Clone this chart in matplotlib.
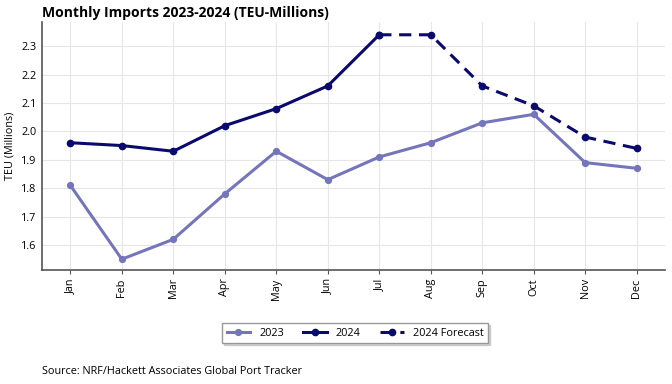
import matplotlib
matplotlib.use("Agg")
import matplotlib.pyplot as plt

plt.rcParams['font.family'] = ['Open Sans', 'DejaVu Sans']

months = ["Jan", "Feb", "Mar", "Apr", "May", "Jun", "Jul", "Aug", "Sep", "Oct", "Nov", "Dec"]
imports_2023 = [1.81, 1.55, 1.62, 1.78, 1.93, 1.83, 1.91, 1.96, 2.03, 2.06, 1.89, 1.87]
imports_2024 = [1.96, 1.95, 1.93, 2.02, 2.08, 2.16, 2.34]
forecast_2024 = [2.34, 2.34, 2.16, 2.09, 1.98, 1.94]
yticks = [1.6, 1.7, 1.8, 1.9, 2.0, 2.1, 2.2, 2.3]

fig = plt.figure(figsize=(6.72, 3.84), dpi=100)
ax = fig.add_axes([42 / 672, 1 - 270 / 384, 623 / 672, 248 / 384])

x = list(range(len(months)))
ax.plot(x, imports_2023, color="#7575bb", lw=2.2, marker="o", ms=4.2, label="2023")
ax.plot(x[:len(imports_2024)], imports_2024, color="#0a0a6e", lw=2.2, marker="o", ms=4.5, label="2024")
ax.plot(x[6:6 + len(forecast_2024)], forecast_2024, color="#0a0a6e", lw=2.2, ls=(0, (4, 2.5)),
        marker="o", ms=4.5, label="2024 Forecast")

ax.set_xlim(-0.55, 11.55)
ax.set_ylim(1.512, 2.385)
ax.set_xticks(x)
ax.set_xticklabels(months, rotation=90, fontsize=7.8)
ax.set_yticks(yticks)
ax.set_yticklabels([f"{v:.1f}" for v in yticks], fontsize=7.8)
ax.tick_params(axis="y", length=0, pad=4)
ax.tick_params(axis="x", length=3, color="#555555", pad=3)
ax.grid(True, color="#e6e6e6", lw=0.8)
ax.set_axisbelow(True)
for s in ["top", "right"]:
    ax.spines[s].set_visible(False)
for s in ["left", "bottom"]:
    ax.spines[s].set_color("#555555")
    ax.spines[s].set_linewidth(1.2)
ax.set_ylabel("TEU (Millions)", fontsize=7.8)

fig.text(42 / 672, 1 - 13 / 384, "Monthly Imports 2023-2024 (TEU-Millions)", fontsize=10,
         fontweight="bold", va="center", ha="left")
fig.text(42 / 672, 1 - 372 / 384, "Source: NRF/Hackett Associates Global Port Tracker", fontsize=7.8,
         va="center", ha="left")

leg = fig.legend(loc="center", bbox_to_anchor=(355 / 672, 1 - 333 / 384), ncol=3, fontsize=7.8,
                 frameon=True, shadow={"ox": 1.5, "oy": -1.5, "color": "#aaaaaa"}, fancybox=False,
                 handlelength=2.2, columnspacing=1.8)
leg.get_frame().set_edgecolor("#999999")

fig.savefig("out.png", dpi=100)
